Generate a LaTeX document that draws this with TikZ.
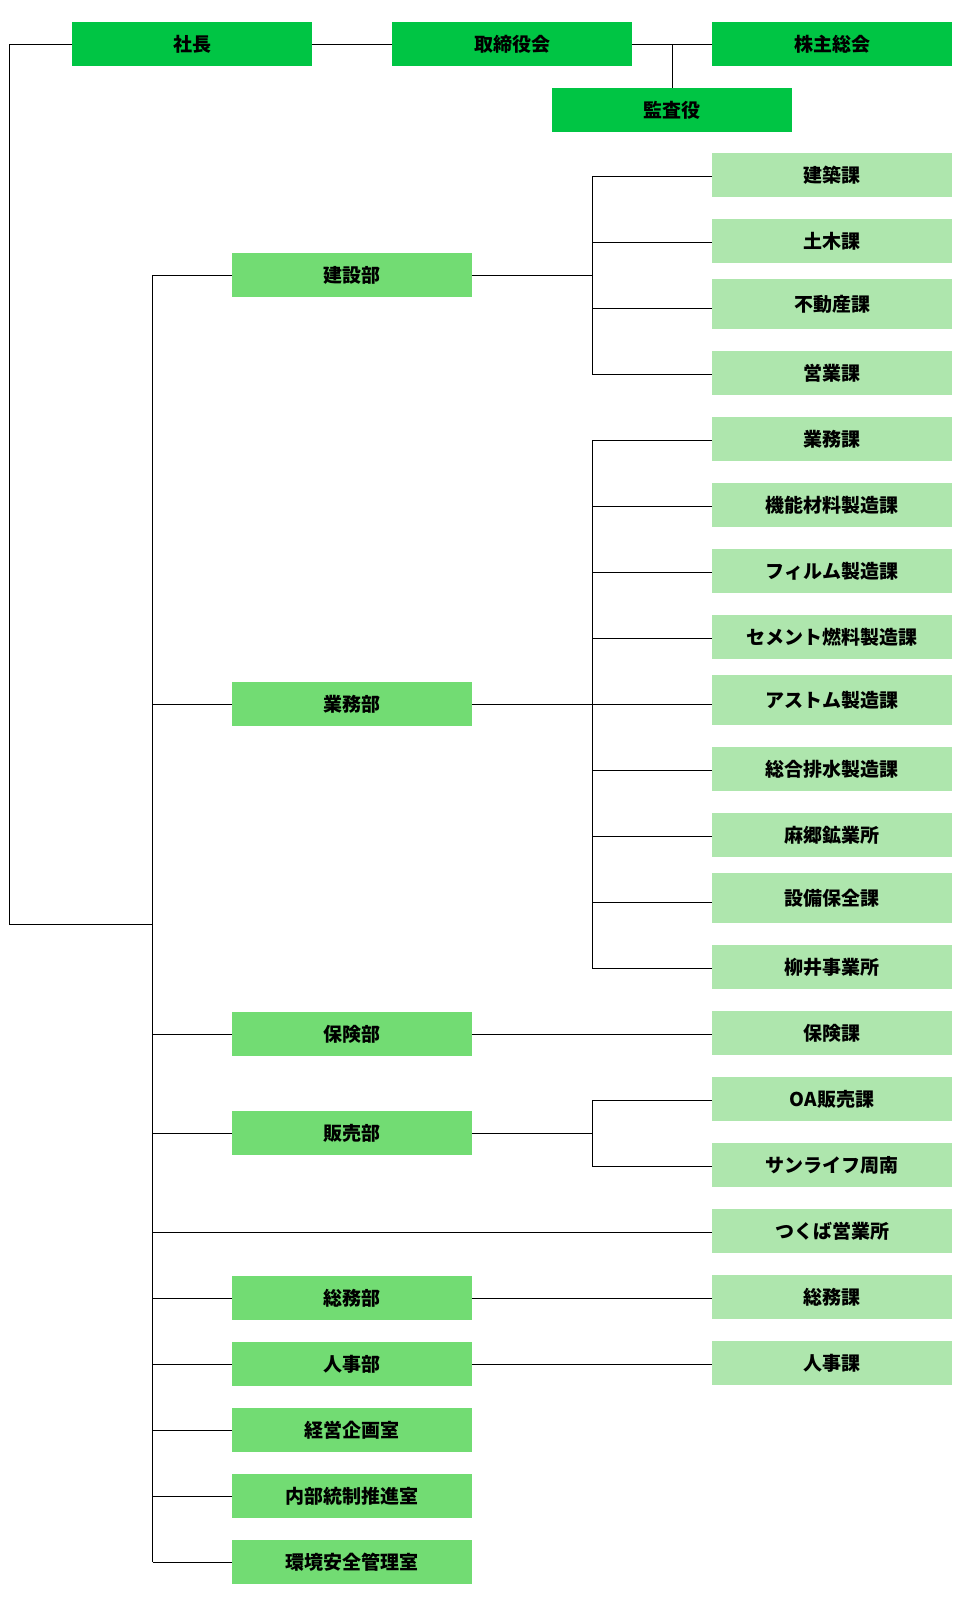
\documentclass[tikz,border=0pt]{standalone}
\usepackage{fontspec}
\newfontfamily\jp{Noto Sans CJK JP}
\definecolor{gtop}{RGB}{0,197,68}
\definecolor{gmid}{RGB}{114,220,115}
\definecolor{glow}{RGB}{174,230,173}
\tikzset{
  box/.style={rectangle, inner sep=0pt, minimum width=240pt, minimum height=44pt,
    font=\jp\bfseries\fontsize{19}{21}\selectfont, text=black},
  topbox/.style={box, fill=gtop},
  midbox/.style={box, fill=gmid},
  lowbox/.style={box, fill=glow},
  tallbox/.style={lowbox, minimum height=50pt},
  conn/.style={draw=black, line width=1pt}
}
\begin{document}
\begin{tikzpicture}[x=1pt,y=-1pt]
\useasboundingbox (0,0) rectangle (967,1607);
% top level
\node[topbox] (shacho) at (192,44) {社長};
\node[topbox] (tori) at (512,44) {取締役会};
\node[topbox] (kabu) at (832,44) {株主総会};
\node[topbox] (kansa) at (672,110) {監査役};
% level 2
\node[midbox] (kensetsu) at (352,275) {建設部};
\node[midbox] (gyomu) at (352,704) {業務部};
\node[midbox] (hoken) at (352,1034) {保険部};
\node[midbox] (hanbai) at (352,1133) {販売部};
\node[midbox] (somu) at (352,1298) {総務部};
\node[midbox] (jinji) at (352,1364) {人事部};
\node[midbox] (keiei) at (352,1430) {経営企画室};
\node[midbox] (naibu) at (352,1496) {内部統制推進室};
\node[midbox] (kankyo) at (352,1562) {環境安全管理室};
% level 3
\node[lowbox] (k0) at (832,175) {建築課};
\node[lowbox] (k1) at (832,241) {土木課};
\node[tallbox] (k2) at (832,304) {不動産課};
\node[lowbox] (k3) at (832,373) {営業課};
\node[lowbox] (k4) at (832,439) {業務課};
\node[lowbox] (k5) at (832,505) {機能材料製造課};
\node[lowbox] (k6) at (832,571) {フィルム製造課};
\node[lowbox] (k7) at (832,637) {セメント燃料製造課};
\node[tallbox] (k8) at (832,700) {アストム製造課};
\node[lowbox] (k9) at (832,769) {総合排水製造課};
\node[lowbox] (k10) at (832,835) {麻郷鉱業所};
\node[tallbox] (k11) at (832,898) {設備保全課};
\node[lowbox] (k12) at (832,967) {柳井事業所};
\node[lowbox] (k13) at (832,1033) {保険課};
\node[lowbox] (k14) at (832,1099) {OA販売課};
\node[lowbox] (k15) at (832,1165) {サンライフ周南};
\node[lowbox] (k16) at (832,1231) {つくば営業所};
\node[lowbox] (k17) at (832,1297) {総務課};
\node[lowbox] (k18) at (832,1363) {人事課};
% coordinates
\coordinate (tj) at (672,44);
\coordinate (lt) at (9.5,44);
\coordinate (lb) at (9.5,924);
\coordinate (tjoin) at (152.5,924);
\coordinate (ttop) at (152.5,275);
\coordinate (tbot) at (152.5,1562);
% top connectors
\draw[conn] (shacho.east) -- (tori.west);
\draw[conn] (tori.east) -- (kabu.west);
\draw[conn] (tj) -- (kansa.north);
\draw[conn] (shacho.west) -- (lt) -- (lb) -- (tjoin);
% trunk
\draw[conn] (ttop) -- (tbot);
\foreach \n in {kensetsu,gyomu,hoken,hanbai,somu,jinji,keiei,naibu,kankyo}{
  \draw[conn] (ttop |- \n.west) -- (\n.west);
}
% kensetsu branch
\coordinate (b0) at (592,176);
\coordinate (b1) at (592,242);
\coordinate (b2) at (592,308);
\coordinate (b3) at (592,374);
\draw[conn] (kensetsu.east) -- (b0 |- kensetsu.east);
\draw[conn] (b0) -- (b3);
\foreach \i in {0,1,2,3}{ \draw[conn] (b\i) -- (b\i -| k\i.west); }
% gyomu branch
\coordinate (b4) at (592,440);
\coordinate (b5) at (592,506);
\coordinate (b6) at (592,572);
\coordinate (b7) at (592,638);
\coordinate (b8) at (592,704);
\coordinate (b9) at (592,770);
\coordinate (b10) at (592,836);
\coordinate (b11) at (592,902);
\coordinate (b12) at (592,968);
\draw[conn] (gyomu.east) -- (b8);
\draw[conn] (b4) -- (b12);
\foreach \i in {4,...,12}{ \draw[conn] (b\i) -- (b\i -| k\i.west); }
% hoken
\draw[conn] (hoken.east) -- (hoken.east -| k13.west);
% hanbai branch
\coordinate (b14) at (592,1100);
\coordinate (b15) at (592,1166);
\draw[conn] (hanbai.east) -- (b14 |- hanbai.east);
\draw[conn] (b14) -- (b15);
\draw[conn] (b14) -- (b14 -| k14.west);
\draw[conn] (b15) -- (b15 -| k15.west);
% tsukuba
\coordinate (b16) at (152.5,1232);
\draw[conn] (b16) -- (b16 -| k16.west);
% somu, jinji
\draw[conn] (somu.east) -- (somu.east -| k17.west);
\draw[conn] (jinji.east) -- (jinji.east -| k18.west);
\end{tikzpicture}
\end{document}
